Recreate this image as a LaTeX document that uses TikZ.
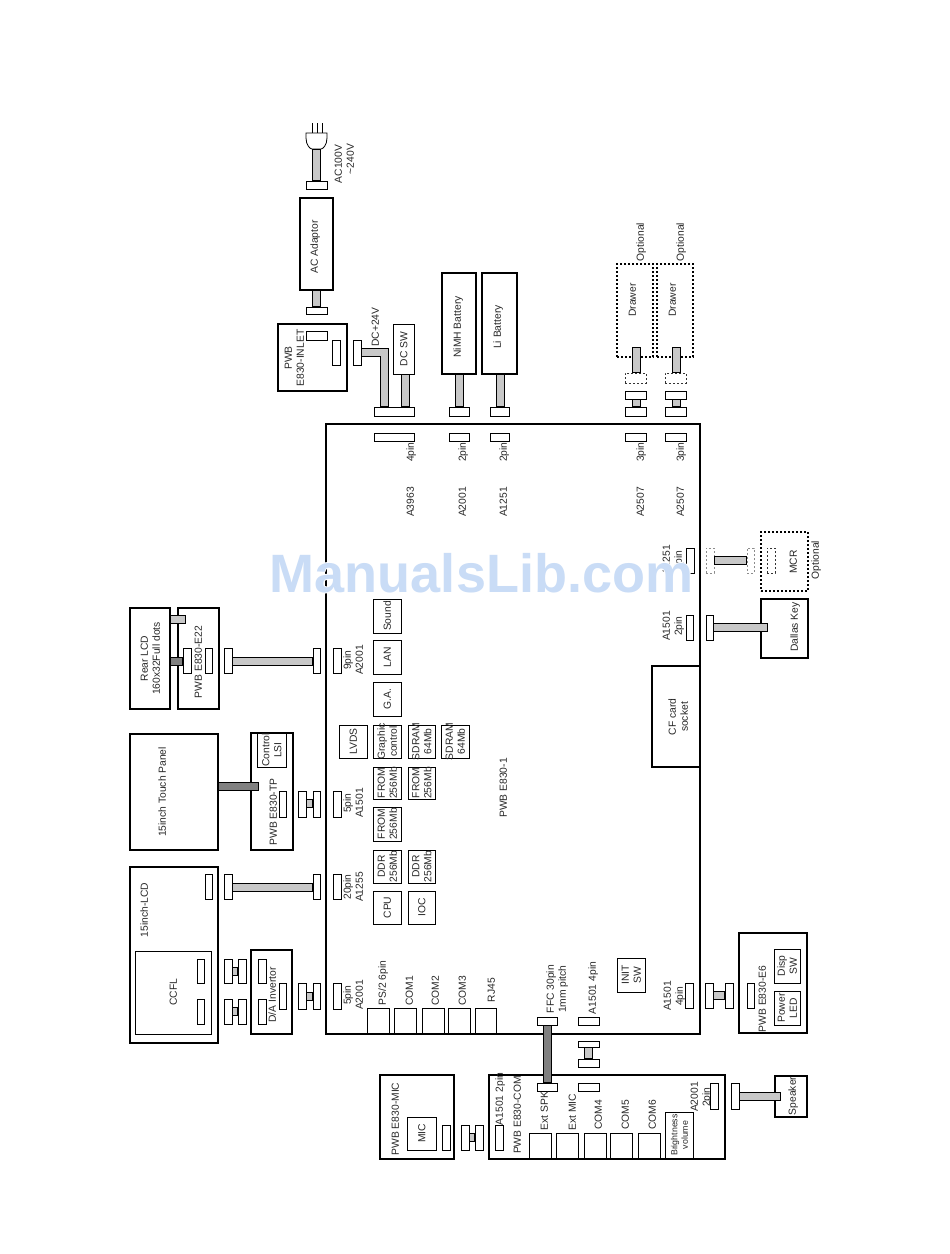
\documentclass[tikz,border=0pt]{standalone}
\usepackage{fontspec}
\usepackage{graphicx}
\setmainfont{Liberation Sans}
\newsavebox\rtb
\newcommand\rt[1]{\sbox\rtb{\rotatebox{90}{\begin{tabular}{@{}c@{}}#1\end{tabular}}}\raisebox{\dimexpr(\dp\rtb-\ht\rtb)/2\relax}[0pt][0pt]{\makebox[0pt]{\kern3pt\usebox\rtb}}}
\definecolor{cablelight}{HTML}{C8C8C8}
\definecolor{cabledark}{HTML}{808080}
\definecolor{wmblue}{HTML}{C9DCF6}
\tikzset{
  base/.style={rectangle,inner sep=0pt,outer sep=0pt,font=\fontsize{10.3}{12}\selectfont,text=black!85},
  thick box/.style={base,draw=black,line width=2pt},
  thin box/.style={base,draw=black,line width=1pt},
  pad/.style={base,draw=black,line width=1pt,fill=white},
  dotted box/.style={base,draw=black,line width=1.9pt,dash pattern=on 1.9pt off 2.1pt},
  dash pad/.style={base,draw=black!80,line width=.8pt,dash pattern=on 2pt off 2pt},
  faint pad/.style={base,draw=black!45,line width=.8pt,dash pattern=on 2pt off 2pt},
  txt/.style={base},
  small txt/.style={base,font=\fontsize{8.8}{10.5}\selectfont},
}
% box: style, name, x1, y1, x2, y2, text
\newcommand\bx[7][thin box]{\node[#1,minimum width=#5pt-#3pt,minimum height=#6pt-#4pt] (#2) at ({(#3+#5)/2},{(#4+#6)/2}) {\rt{#7}};}
\newcommand\lb[5][txt]{\node[#1] (#2) at (#3,#4) {\rt{#5}};}
% cable along a path: colour, path
\newcommand\cab[2][cablelight]{%
  \draw[line width=9pt,black,line join=miter] #2;
  \draw[line width=7pt,#1,line join=miter,shorten <=1pt,shorten >=1pt] #2;}
% horizontal at y from a to b; vertical at x from a to b
\newcommand\cabh[4][cablelight]{\cab[#1]{(#2 |- 0,#4) -- (#3 |- 0,#4)}}
\newcommand\cabv[4][cablelight]{\cab[#1]{(#4,0 |- #2) -- (#4,0 |- #3)}}
\begin{document}
\begin{tikzpicture}[x=1pt,y=-1pt]
\useasboundingbox (0,0) rectangle (950,1254);
\fill[white] (0,0) rectangle (950,1254);

% main board
\bx[thick box]{board}{326}{424}{700}{1034}{}
\lb{boardname}{503}{788}{PWB E830-1}

% Rear LCD / E22
\bx[thick box]{rearlcd}{130}{608}{170}{709}{Rear LCD\\160x32Full dots}
\bx[thick box]{e22}{178}{608}{219}{709}{}
\lb{e22txt}{198}{662}{PWB E830-E22}
\bx[pad]{e22a}{183}{648}{191}{673}{}
\bx[pad]{e22b}{205}{648}{212}{673}{}
\coordinate (e22stub) at (185.5,619.5);
\bx[pad]{c22a}{224}{648}{232}{673}{}
\bx[pad]{c22b}{313}{648}{320}{673}{}
\bx[pad]{p9}{333}{648}{341}{673}{}
\lb{p9t}{353}{660}{9pin\\A2001}
\cabh{c22a.east}{c22b.west}{661.5}
\cabh{rearlcd.east}{e22stub}{619.5}
\cabh[cabledark]{rearlcd.east}{e22a.west}{661.5}

% Touch panel
\bx[thick box]{touch}{130}{734}{218}{850}{}
\lb{toucht}{162}{792}{15inch Touch Panel}
\bx[thick box]{tp}{251}{733}{293}{850}{}
\bx{lsi}{257}{733}{286}{767}{Control\\LSI}
\lb{tpt}{273}{812}{PWB E830-TP}
\bx[pad]{tpa}{279}{791}{286}{817}{}
\bx[pad]{tpb}{298}{791}{306}{817}{}
\bx[pad]{tpc}{313}{791}{320}{817}{}
\bx[pad]{p5a}{333}{791}{341}{817}{}
\lb{p5at}{353}{803}{5pin\\A1501}
\cabh{tpb.east}{tpc.west}{803.5}
\cab[cabledark]{(touch.east |- 0,786.5) -- (259,786.5)}

% 15 inch LCD
\bx[thick box]{lcd}{130}{867}{218}{1043}{}
\lb{lcdt}{144}{910}{15inch-LCD}
\bx{ccfl}{135}{951}{211}{1034}{}
\lb{ccflt}{173}{992}{CCFL}
\bx[pad]{lcdp}{205}{874}{212}{899}{}
\bx[pad]{lcda}{224}{874}{232}{899}{}
\bx[pad]{lcdb}{313}{874}{320}{899}{}
\bx[pad]{p20}{333}{874}{341}{899}{}
\lb{p20t}{353}{887}{20pin\\A1255}
\cabh{lcda.east}{lcdb.west}{887.5}
\bx[pad]{cca}{197}{959}{204}{983}{}
\bx[pad]{ccb}{197}{999}{204}{1024}{}
\bx[pad]{ca1}{224}{959}{232}{983}{}
\bx[pad]{ca2}{238}{959}{246}{983}{}
\bx[pad]{cb1}{224}{999}{232}{1024}{}
\bx[pad]{cb2}{238}{999}{246}{1024}{}
\cabh{ca1.east}{ca2.west}{971.5}
\cabh{cb1.east}{cb2.west}{1011.5}

% D/A invertor
\bx[thick box]{inv}{251}{950}{292}{1034}{}
\bx[pad]{inva}{258}{959}{266}{983}{}
\bx[pad]{invb}{258}{999}{266}{1024}{}
\bx[pad]{invc}{279}{983}{286}{1009}{}
\lb{invt}{272}{995}{D/A Invertor}
\bx[pad]{ia}{298}{983}{306}{1009}{}
\bx[pad]{ib}{313}{983}{320}{1009}{}
\bx[pad]{p5b}{333}{983}{341}{1009}{}
\lb{p5bt}{353}{995}{5pin\\A2001}
\cabh{ia.east}{ib.west}{996.5}

% chips
\bx{cpu}{373}{891}{401}{924}{CPU}
\bx{ioc}{408}{891}{435}{924}{IOC}
\bx{ddra}{373}{850}{401}{883}{DDR\\256Mb}
\bx{ddrb}{408}{850}{435}{883}{DDR\\256Mb}
\bx{froma}{373}{807}{401}{841}{FROM\\256Mb}
\bx{fromb}{373}{767}{401}{799}{FROM\\256Mb}
\bx{fromc}{408}{767}{435}{799}{FROM\\256Mb}
\bx{lvds}{339}{725}{367}{758}{LVDS}
\bx{gfx}{373}{725}{401}{758}{Graphic\\control}
\bx{sda}{408}{725}{435}{758}{SDRAM\\64Mb}
\bx{sdb}{441}{725}{469}{758}{SDRAM\\64Mb}
\bx{ga}{373}{682}{401}{716}{G.A.}
\bx{lan}{373}{640}{401}{674}{LAN}
\bx{sound}{373}{599}{401}{633}{Sound}

% rear ports
\bx{ps2}{367}{1008}{389}{1034}{}
\bx{com1}{394}{1008}{416}{1034}{}
\bx{com2}{422}{1008}{444}{1034}{}
\bx{com3}{448}{1008}{470}{1034}{}
\bx{rj45}{475}{1008}{496}{1034}{}
\lb{ps2t}{382}{983}{PS/2 6pin}
\lb{com1t}{409}{991}{COM1}
\lb{com2t}{435}{991}{COM2}
\lb{com3t}{462}{991}{COM3}
\lb{rj45t}{491}{990}{RJ45}
\bx[pad]{ffca}{537}{1017}{557}{1025}{}
\bx[pad]{a4a}{578}{1017}{599}{1025}{}
\lb{ffct}{556}{989}{FFC 30pin\\1mm pitch}
\lb{a4t}{592}{988}{A1501 4pin}
\bx{init}{617}{958}{645}{992}{INIT\\SW}

% E6
\bx[pad]{p4}{685}{983}{693}{1008}{}
\lb{p4t}{673}{996}{A1501\\4pin}
\bx[pad]{e6a}{705}{983}{713}{1008}{}
\bx[pad]{e6b}{725}{983}{733}{1008}{}
\cabh{e6a.east}{e6b.west}{995.5}
\bx[thick box]{e6}{739}{933}{807}{1033}{}
\bx[pad]{e6p}{747}{983}{754}{1008}{}
\lb{e6t}{762}{999}{PWB E830-E6}
\bx{disp}{774}{949}{800}{983}{Disp\\SW}
\bx{led}{774}{991}{800}{1025}{Power\\LED}

% COM board
\bx[thick box]{com}{489}{1075}{725}{1159}{}
\bx[pad]{ffcb}{537}{1083}{557}{1091}{}
\cabv[cabledark]{ffca.south}{ffcb.north}{547.5}
\bx[pad]{aa}{578}{1041}{599}{1047}{}
\bx[pad]{ab}{578}{1059}{599}{1067}{}
\cabv{aa.south}{ab.north}{588.5}
\bx[pad]{ac}{578}{1083}{599}{1091}{}
\bx[pad]{a2p}{495}{1125}{503}{1150}{}
\lb{a2pt}{499}{1099}{A1501 2pin}
\lb{comt}{517}{1115}{PWB E830-COM}
\lb{spkt}{544}{1111}{Ext SPK}
\lb{mict}{572}{1112}{Ext MIC}
\lb{c4t}{598}{1115}{COM4}
\lb{c5t}{625}{1115}{COM5}
\lb{c6t}{652}{1115}{COM6}
\bx{ps}{529}{1133}{551}{1159}{}
\bx{pm}{556}{1133}{578}{1159}{}
\bx{p4c}{584}{1133}{606}{1159}{}
\bx{p5c}{610}{1133}{632}{1159}{}
\bx{p6c}{638}{1133}{660}{1159}{}
\bx{bright}{665}{1112}{693}{1159}{}
\lb[small txt]{brightt}{679}{1135}{Brightness\\volume}
\lb{a20t}{700}{1097}{A2001\\2pin}
\bx[pad]{a20}{710}{1083}{718}{1109}{}
\bx[pad]{sp1}{731}{1083}{739}{1109}{}
\bx[thick box]{spk}{775}{1076}{807}{1117}{}
\lb{spknt}{792}{1096}{Speaker}
\coordinate (spkend) at (781,1096.5);
\cabh{sp1.east}{spkend}{1096.5}

% MIC board
\bx[thick box]{micb}{380}{1075}{454}{1159}{}
\lb{micbt}{395}{1119}{PWB E830-MIC}
\bx{mic}{407}{1117}{436}{1150}{MIC}
\bx[pad]{mp}{442}{1125}{450}{1150}{}
\bx[pad]{ma}{461}{1125}{469}{1150}{}
\bx[pad]{mb}{475}{1125}{483}{1150}{}
\cabh{ma.east}{mb.west}{1137.5}

% power
\draw[line width=.7pt] (312,123) -- (312,133) (317,123) -- (317,133) (322,123) -- (322,133);
\draw[line width=.8pt,fill=white] (306,133) -- (327,133) -- (327,138) .. controls (327,145) and (323,149) .. (321,149) -- (312,149) .. controls (310,149) and (306,145) .. (306,138) -- cycle;
\coordinate (plug) at (316.5,149);
\bx[pad]{adpa}{306}{181}{327}{189}{}
\cabv{plug}{adpa.north}{316.5}
\lb{act}{338}{164}{AC100V}
\lb{act2}{350}{159}{\textasciitilde 240V}
\bx[thick box]{adp}{300}{198}{333}{290}{}
\lb{adpt}{314}{247}{AC Adaptor}
\bx[pad]{adpb}{306}{307}{327}{314}{}
\cabv{adp.south}{adpb.north}{316.5}
\bx[thick box]{inlet}{278}{324}{347}{391}{}
\lb{inlett}{294}{358}{PWB\\E830-INLET}
\bx[pad]{ia1}{306}{331}{327}{340}{}
\bx[pad]{ia2}{332}{340}{340}{365}{}
\bx[pad]{dcp}{353}{340}{361}{365}{}
\lb{dct}{375}{327}{DC+24V}
\bx{dcsw}{393}{324}{414}{374}{DC SW}
\bx[pad]{p4a}{374}{407}{414}{416}{}
\bx[pad]{p4b}{374}{433}{414}{441}{}
\cab{(dcp.east |- 0,352.5) -- (384.5,352.5) -- (384.5,0 |- p4a.north)}
\cabv{dcsw.south}{p4a.north}{405.5}
\lb{p4t2}{410}{452}{4pin}
\lb{a3963}{410}{502}{A3963}
% batteries
\bx[thick box]{nimh}{442}{273}{476}{374}{}
\lb{nimht}{457}{327}{NiMH Battery}
\bx[pad]{n1}{449}{407}{469}{416}{}
\bx[pad]{n2}{449}{433}{469}{441}{}
\cabv{nimh.south}{n1.north}{459.5}
\lb{n2t}{462}{452}{2pin}
\lb{a2001t}{462}{502}{A2001}
\bx[thick box]{li}{482}{273}{517}{374}{}
\lb{lit}{497}{327}{Li Battery}
\bx[pad]{l1}{490}{407}{509}{416}{}
\bx[pad]{l2}{490}{433}{509}{441}{}
\cabv{li.south}{l1.north}{500.5}
\lb{l2t}{503}{452}{2pin}
\lb{a1251t}{503}{502}{A1251}

% drawers
\bx[dotted box]{dr1}{617}{264}{653}{357}{}
\bx[dotted box]{dr2}{657}{264}{693}{357}{}
\lb{dr1t}{632}{300}{Drawer}
\lb{dr2t}{672}{300}{Drawer}
\lb{op1}{640}{242}{Optional}
\lb{op2}{680}{242}{Optional}
\coordinate (b1t) at (636.5,347);
\coordinate (b2t) at (676.5,347);
\bx[dash pad]{dd1}{625}{373}{646}{383}{}
\bx[dash pad]{dd2}{665}{373}{686}{383}{}
\cabv{b1t}{dd1.north}{636.5}
\cabv{b2t}{dd2.north}{676.5}
\bx[pad]{t1a}{625}{391}{646}{399}{}
\bx[pad]{t1b}{625}{407}{646}{416}{}
\bx[pad]{t2a}{665}{391}{686}{399}{}
\bx[pad]{t2b}{665}{407}{686}{416}{}
\cabv{t1a.south}{t1b.north}{636.5}
\cabv{t2a.south}{t2b.north}{676.5}
\bx[pad]{b1}{625}{433}{646}{441}{}
\bx[pad]{b2}{665}{433}{686}{441}{}
\lb{b1t3}{640}{452}{3pin}
\lb{b2t3}{680}{452}{3pin}
\lb{a25a}{640}{502}{A2507}
\lb{a25b}{680}{502}{A2507}

% MCR, Dallas
\bx[pad]{mcrp}{686}{548}{694}{573}{}
\lb{mcrpt}{672}{560}{A1251\\2pin}
\bx[faint pad]{mcr1}{706}{548}{714}{573}{}
\bx[faint pad]{mcr2}{747}{548}{754}{573}{}
\cabh{mcr1.east}{mcr2.west}{560.5}
\bx[dotted box]{mcr}{761}{532}{808}{591}{}
\bx[dash pad]{mcr3}{767}{548}{775}{573}{}
\lb{mcrt}{793}{562}{MCR}
\lb{mcrop}{815}{560}{Optional}
\bx[pad]{dlp}{686}{615}{693}{640}{}
\lb{dlpt}{672}{626}{A1501\\2pin}
\bx[pad]{dlq}{706}{615}{713}{640}{}
\bx[thick box]{dallas}{761}{599}{808}{658}{}
\lb{dallast}{794}{627}{Dallas Key}
\coordinate (dlend) at (768,627.5);
\cabh{dlq.east}{dlend}{627.5}
\bx[thick box]{cf}{652}{666}{700}{767}{}
\lb{cft}{678}{717}{CF card\\socket}

% watermark
\foreach \dx/\dy in {-1/0,1/0,0/-1,0/1}
  \node[anchor=base,inner sep=0pt,text=white,font=\fontsize{54}{60}\bfseries\selectfont] at (481.5+\dx,592+\dy) {ManualsLib.com};
\node[anchor=base,inner sep=0pt,text=wmblue,font=\fontsize{54}{60}\bfseries\selectfont] (wm) at (481.5,592) {ManualsLib.com};
\end{tikzpicture}
\end{document}
